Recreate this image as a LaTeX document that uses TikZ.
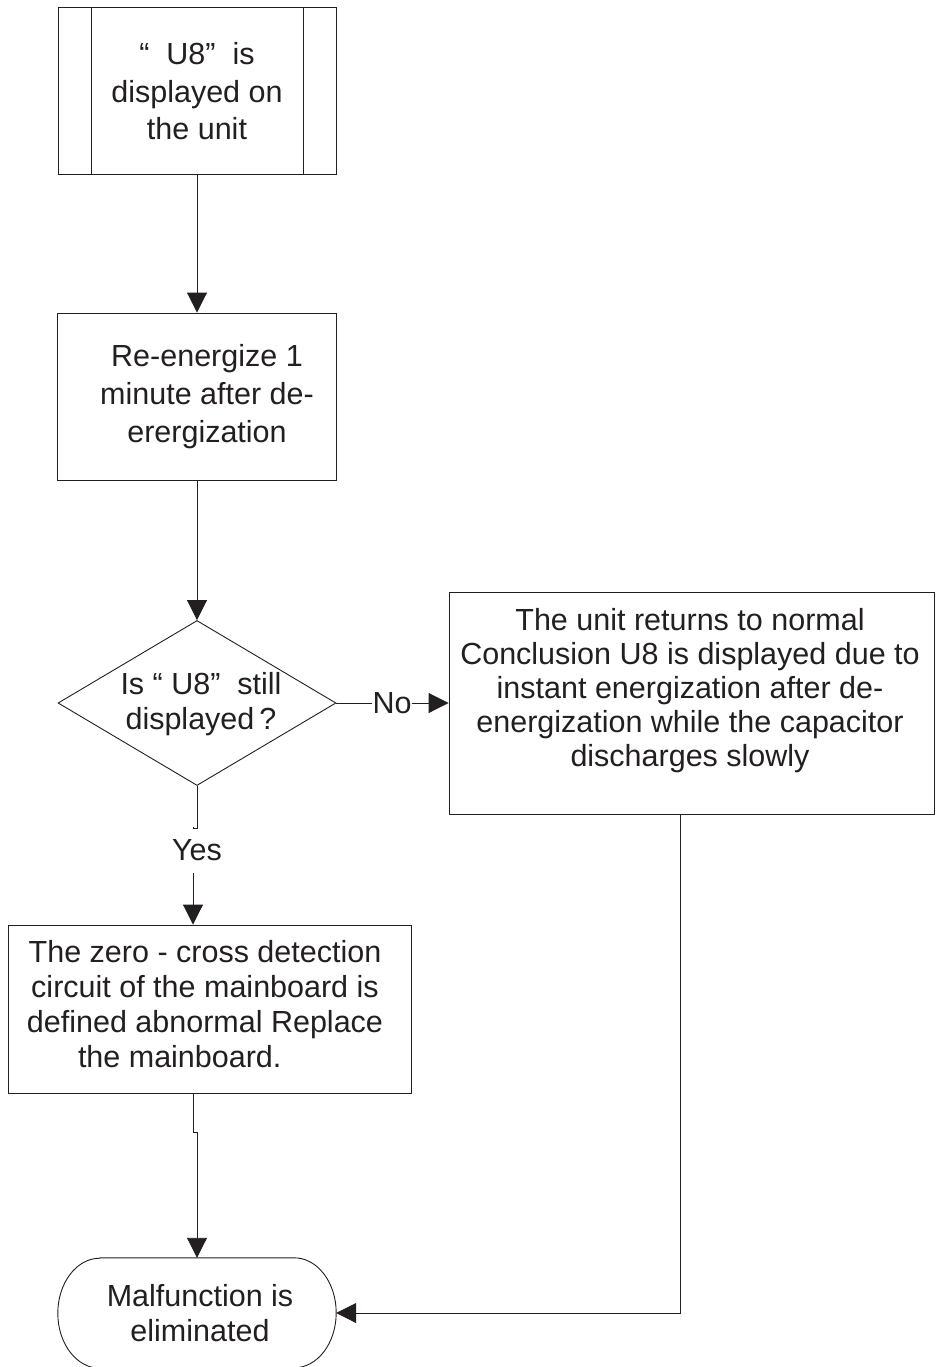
\documentclass[tikz,border=0pt]{standalone}
\usepackage{fontspec}
\setmainfont{Liberation Sans}
\usetikzlibrary{shapes.geometric,arrows.meta}
\definecolor{ink}{HTML}{231F20}
\begin{document}
\begin{tikzpicture}[x=1pt,y=-1pt,
  every node/.style={font=\fontsize{30.5}{35}\selectfont, text=ink},
  box/.style={draw=ink, line width=0.9pt, rectangle, inner sep=0pt},
  conn/.style={draw=ink, line width=0.9pt},
  arr/.style={draw=ink, line width=0.9pt, -{Triangle[length=20pt,width=20pt]}},
  txt/.style={align=center, inner sep=0pt},
  lbl/.style={inner sep=0pt}]
\useasboundingbox (0,0) rectangle (935,1367);
\fill[white] (0,0) rectangle (935,1367);

% top predefined process box
\node[box, minimum width=278pt, minimum height=167pt] (b1) at (197,90.5) {};
\draw[conn] ([xshift=34pt]b1.north west) -- ([xshift=34pt]b1.south west);
\draw[conn] ([xshift=-33pt]b1.north east) -- ([xshift=-33pt]b1.south east);
\node[txt, font=\fontsize{30.5}{37.5}\selectfont] (t1) at (197,91.5) {“\ \ U8”\ \ is\\displayed on\\the unit};

% re-energize box
\node[box, minimum width=279pt, minimum height=167pt] (b2) at (197,396.5) {};
\node[txt, font=\fontsize{30.5}{38}\selectfont] (t2) at (207,397) {Re-energize 1\\minute after de-\\erergization};

% decision
\node[draw=ink, line width=0.9pt, diamond, minimum width=278pt, minimum height=165pt, inner sep=0pt] (d) at (197,703) {};
\node[txt] (dt) at (201,704.5) {Is “ U8”\ \ still\\displayed\,?};

% right box
\node[box, minimum width=485pt, minimum height=222pt] (rb) at (691.5,703) {};
\node[txt, font=\fontsize{30.5}{34}\selectfont] (rt) at (690,690.5) {The unit returns to normal\\Conclusion U8 is displayed due to\\instant energization after de-\\energization while the capacitor\\discharges slowly};

% zero-cross box
\node[box, minimum width=403pt, minimum height=168pt] (b4) at (209.5,1009) {};
\node[txt] (t4) at (205,1004.5) {The zero - cross detection\\circuit of the mainboard is\\defined abnormal Replace\\\makebox[254pt][l]{the mainboard.}};

% terminal
\node[minimum width=278pt, minimum height=110pt, inner sep=0pt] (t) at (197,1313) {};
\draw[conn] ([xshift=42pt]t.north west) -- ([xshift=-42pt]t.north east)
  arc[start angle=90, end angle=-90, x radius=42pt, y radius=55pt]
  -- ([xshift=42pt]t.south west)
  arc[start angle=270, end angle=90, x radius=42pt, y radius=55pt] -- cycle;
\node[txt] (tt) at (200,1313.5) {Malfunction is\\eliminated};

% labels
\node[lbl] (no) at (392,703) {No};
\node[lbl, minimum height=45pt] (yes) at (197,850) {Yes};

% connectors
\draw[arr] (b1.south) -- (b2.north);
\draw[arr] (b2.south) -- (d.north);
\draw[conn] (d.east) -- (no.west);
\draw[arr] (no.east) -- (rb.west);
\draw[conn] (d.south) -- ++(0,42) -| ([xshift=-4pt]yes.north);
\draw[arr] ([xshift=-4pt]yes.south) -- ([xshift=-4pt]yes.south |- b4.north);
\draw[arr] ([xshift=-16.5pt]b4.south) -- ++(0,39) -| (t.north);
\draw[arr] ([xshift=-11.5pt]rb.south) |- (t.east);
\end{tikzpicture}
\end{document}
